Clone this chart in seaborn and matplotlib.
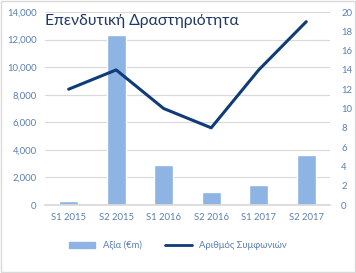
import numpy as np
import pandas as pd
import matplotlib
matplotlib.use("Agg")
import matplotlib.pyplot as plt
import seaborn as sns
from matplotlib.lines import Line2D
from matplotlib.patches import Patch

periods = ["S1 2015", "S2 2015", "S1 2016", "S2 2016", "S1 2017", "S2 2017"]
value_eur_m = [300, 12300, 2900, 950, 1450, 3600]
deal_count = [12, 14, 10, 8, 14, 19]

df = pd.DataFrame({"period": periods, "value": value_eur_m,
                   "deals": deal_count, "pos": np.arange(len(periods))})

sns.set_theme(style="white")
plt.rcParams["font.family"] = ["Lato", "DejaVu Sans"]

bar_color = "#8DB4E2"
line_color = "#0F3C78"
tick_color = "#5A7FB0"

fig = plt.figure(figsize=(3.56, 2.73), dpi=100)
ax = fig.add_axes([0.126, 0.249, 0.801, 0.707])

sns.barplot(data=df, x="period", y="value", color=bar_color, width=0.4,
            saturation=1, ax=ax)
ax.set_ylim(0, 14000)
ax.set_yticks(range(0, 14001, 2000))
ax.set_yticklabels([f"{v:,}" for v in range(0, 14001, 2000)])
ax.set_xlim(-0.5, 5.5)
ax.grid(axis="y", color="#D9D9D9", linewidth=0.8)
ax.set_axisbelow(True)
ax.set_xlabel("")
ax.set_ylabel("")
for s in ["top", "left", "right"]:
    ax.spines[s].set_visible(False)
ax.spines["bottom"].set_color("#D9D9D9")
ax.tick_params(axis="both", labelsize=6.8, colors=tick_color, length=0, pad=6)

ax2 = ax.twinx()
sns.lineplot(data=df, x="pos", y="deals", color=line_color, linewidth=2.2, ax=ax2)
ax2.set_ylim(0, 20)
ax2.set_yticks(range(0, 21, 2))
ax2.set_ylabel("")
ax2.set_xlim(-0.5, 5.5)
for s in ["top", "left", "right", "bottom"]:
    ax2.spines[s].set_visible(False)
ax2.tick_params(axis="y", labelsize=6.8, colors=tick_color, length=0, pad=8)

ax.text(0.0, 0.99, "Επενδυτική Δραστηριότητα", transform=ax.transAxes,
        fontsize=11.3, color="#1F3864", ha="left", va="top")

handles = [Patch(color=bar_color, label="Αξία (€m)"),
           Line2D([0], [0], color=line_color, linewidth=2, label="Αριθμός Συμφωνιών")]
fig.legend(handles=handles, loc="center", bbox_to_anchor=(0.5, 0.1), ncol=2,
           frameon=False, fontsize=6.8, labelcolor=tick_color,
           handlelength=2.8, handleheight=0.5, columnspacing=2.5)

fig.patches.append(plt.Rectangle((0.003, 0.005), 0.994, 0.99, transform=fig.transFigure,
                                 fill=False, edgecolor="#D9D9D9", linewidth=1))

fig.savefig("out.png", dpi=100)
